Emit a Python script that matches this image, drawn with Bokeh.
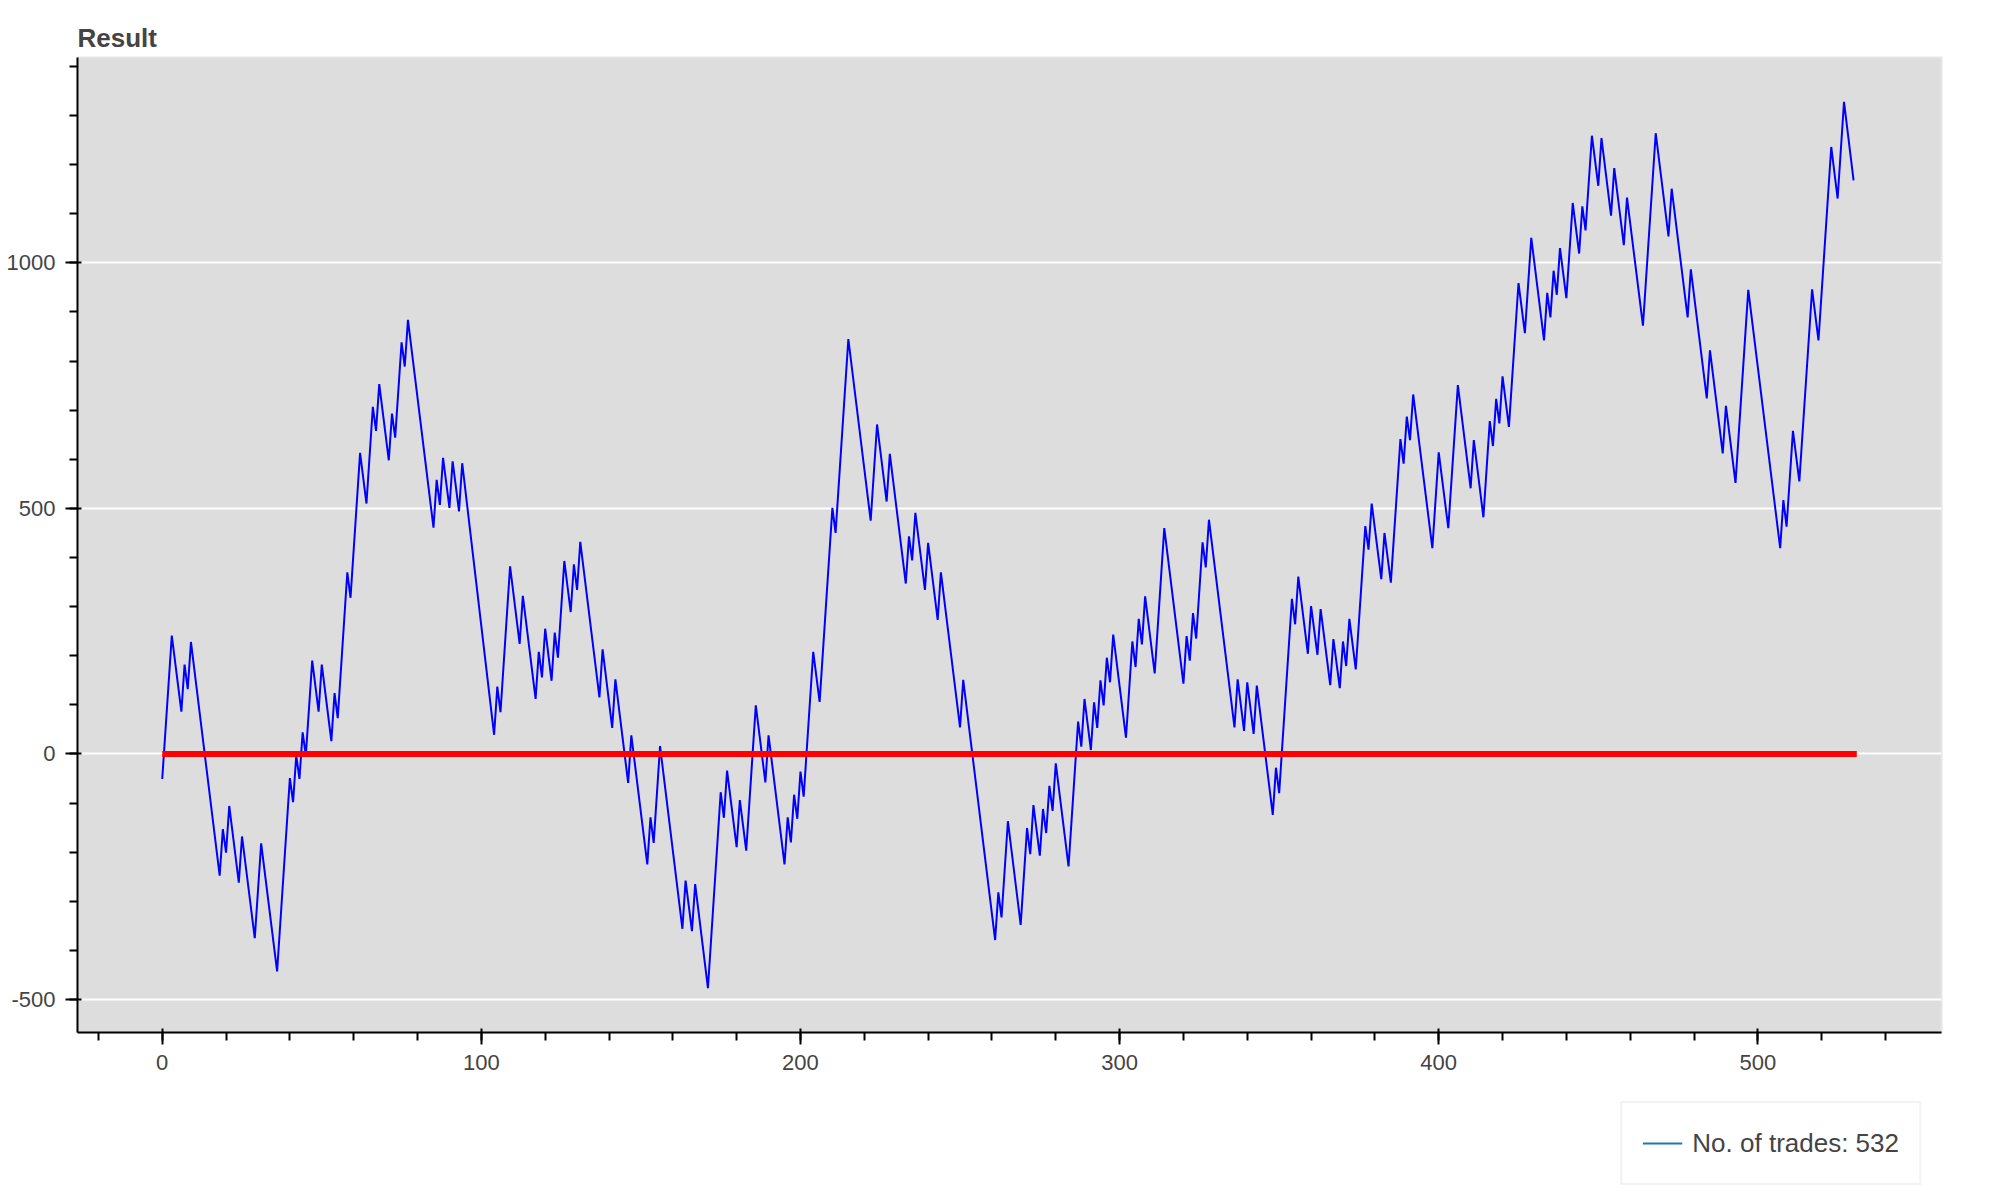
from bokeh.plotting import figure
from bokeh.layouts import column
from bokeh.models import Legend, LegendItem, NumeralTickFormatter
from bokeh.embed import file_html
from bokeh.resources import INLINE

# Turning points of the cumulative result (trade index, result)
trade_x = [
    0, 3, 6, 7, 8, 9, 18, 19, 20, 21, 24, 25, 29, 31, 36, 40, 41, 42, 43, 44, 45, 47, 49, 50,
    53, 54, 55, 58, 59, 62, 64, 66, 67, 68, 71, 72, 73, 75, 76, 77, 85, 86, 87, 88, 90, 91,
    93, 94, 104, 105, 106, 109, 112, 113, 117, 118, 119, 120, 122, 123, 124, 126, 128, 129,
    130, 131, 137, 138, 141, 142, 146, 147, 152, 153, 154, 156, 163, 164, 166, 167, 171,
    175, 176, 177, 180, 181, 183, 186, 189, 190, 195, 196, 197, 198, 199, 200, 201, 204,
    206, 210, 211, 215, 222, 224, 227, 228, 233, 234, 235, 236, 239, 240, 243, 244, 250,
    251, 261, 262, 263, 265, 269, 271, 272, 273, 275, 276, 277, 278, 279, 280, 284, 287,
    288, 289, 291, 292, 293, 294, 295, 296, 297, 298, 302, 304, 305, 306, 307, 308, 311,
    314, 320, 321, 322, 323, 324, 326, 327, 328, 336, 337, 339, 340, 342, 343, 348, 349,
    350, 354, 355, 356, 359, 360, 362, 363, 366, 367, 369, 370, 371, 372, 374, 377, 378,
    379, 382, 383, 385, 388, 389, 390, 391, 392, 398, 400, 403, 406, 410, 411, 414, 416,
    417, 418, 419, 420, 422, 425, 427, 429, 433, 434, 435, 436, 437, 438, 440, 442, 444,
    445, 446, 448, 450, 451, 454, 455, 458, 459, 464, 468, 472, 473, 478, 479, 484, 485,
    489, 490, 493, 497, 507, 508, 509, 511, 513, 517, 519, 523, 525, 527, 530,
]
result = [
    -51, 241, 86, 182, 132, 228, -248, -153, -201, -106, -262, -168, -375, -182, -443, -49,
    -98, -3, -51, 44, -3, 190, 86, 182, 26, 124, 73, 370, 318, 613, 510, 707, 658, 753, 598,
    693, 644, 838, 789, 884, 461, 558, 507, 603, 501, 596, 494, 592, 39, 137, 85, 382, 224,
    322, 112, 208, 156, 255, 149, 247, 196, 393, 289, 386, 334, 432, 115, 213, 53, 152, -59,
    38, -225, -129, -181, 16, -356, -258, -361, -265, -477, -78, -130, -34, -190, -94, -197,
    99, -58, 38, -225, -129, -180, -83, -132, -36, -87, 208, 106, 501, 450, 845, 475, 671,
    514, 611, 347, 443, 394, 491, 334, 430, 273, 370, 54, 151, -379, -282, -333, -137, -348,
    -151, -204, -104, -207, -112, -161, -65, -116, -19, -229, 66, 15, 112, 8, 105, 53, 150,
    99, 196, 146, 243, 33, 229, 177, 275, 223, 321, 164, 460, 143, 240, 190, 287, 235, 431,
    380, 477, 54, 152, 47, 146, 41, 139, -124, -28, -80, 316, 264, 361, 204, 301, 202, 295,
    140, 234, 134, 229, 179, 275, 172, 464, 416, 510, 356, 450, 349, 641, 591, 687, 639, 732,
    419, 614, 460, 751, 541, 639, 482, 678, 627, 723, 673, 769, 666, 959, 857, 1051, 842,
    939, 889, 984, 935, 1030, 928, 1122, 1019, 1115, 1066, 1259, 1157, 1254, 1096, 1193,
    1036, 1133, 872, 1264, 1054, 1151, 889, 987, 724, 822, 612, 709, 552, 945, 419, 517,
    463, 658, 555, 946, 842, 1236, 1131, 1328, 1168,
]
zero_x = [0, 531]
zero_y = [0, 0]
n_trades = 532
legend_x = [0]
legend_y = [0]

FONT = "Liberation Sans"

p = figure(width=1951, height=1081, output_backend="svg", toolbar_location=None,
           title="Result", min_border_left=77, min_border_top=57,
           min_border_right=10, min_border_bottom=49,
           background_fill_color="#dddddd", border_fill_color="white")

p.title.text_font = FONT
p.title.text_font_size = "26px"
p.title.text_font_style = "bold"
p.title.text_color = "#444444"
p.title.standoff = 10

p.outline_line_width = 2
p.outline_line_color = "#e5e5e5"

for ax in (p.xaxis[0], p.yaxis[0]):
    ax.axis_line_width = 2
    ax.axis_line_color = "black"
    ax.major_tick_line_width = 2
    ax.minor_tick_line_width = 2
    ax.major_tick_in = 4
    ax.major_tick_out = 12
    ax.minor_tick_in = 0
    ax.minor_tick_out = 8
    ax.major_label_standoff = 10
    ax.major_label_text_font = FONT
    ax.major_label_text_font_size = "22px"
    ax.major_label_text_color = "#444444"
p.yaxis[0].formatter = NumeralTickFormatter(format="0")
p.xaxis[0].formatter = NumeralTickFormatter(format="0")

p.xgrid.visible = False
p.ygrid.grid_line_color = "white"
p.ygrid.grid_line_width = 2

p.line(trade_x, result, line_color="blue", line_width=2)
p.line(zero_x, zero_y, line_color="red", line_width=6)

# Strip below the chart that holds the legend
leg = figure(width=1951, height=119, output_backend="svg", toolbar_location=None,
             min_border_left=77, min_border_right=10, min_border_top=0, min_border_bottom=0,
             background_fill_color="white", border_fill_color="white")
leg.axis.visible = False
leg.grid.visible = False
leg.outline_line_color = None
dummy = leg.line(x=legend_x, y=legend_y, line_width=2)

legend = Legend(items=[LegendItem(label=f"No. of trades: {n_trades}", renderers=[dummy])],
                location="top_right", margin=20, padding=20, glyph_width=40,
                glyph_height=40, label_standoff=10, label_text_font=FONT,
                label_text_font_size="26px", label_text_color="#444444",
                border_line_width=2, border_line_color="#e5e5e5", border_line_alpha=0.5,
                background_fill_color="white", background_fill_alpha=1.0)
leg.add_layout(legend, "center")

layout = column(p, leg, spacing=0)
open("out.html", "w").write(file_html(layout, INLINE))
